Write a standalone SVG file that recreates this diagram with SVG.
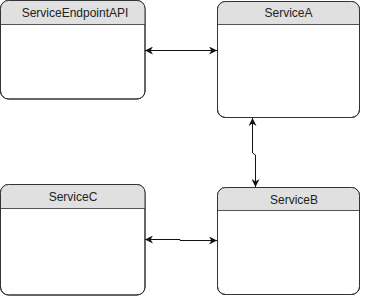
<svg xmlns="http://www.w3.org/2000/svg" width="370" height="296" viewBox="0 0 370 296">
<defs>
<style>
.box{fill:#ffffff;stroke:#333333;stroke-width:1}
.hdr{fill:#e0e0e0}
.sep{stroke:#555555;stroke-width:1}
.lbl{font-family:"Liberation Sans",Arial,sans-serif;font-size:12px;fill:#222222;text-anchor:middle}
.conn{fill:none;stroke:#111111;stroke-width:1}
</style>
<marker id="ah" viewBox="0 0 10 10" refX="10" refY="5" markerWidth="8" markerHeight="8" orient="auto-start-reverse" markerUnits="userSpaceOnUse">
<path d="M0,0 L10,5 L0,10 L3,5 Z" fill="#111111"/>
</marker>
<clipPath id="c1"><rect x="0.5" y="0.5" width="144.5" height="98.5" rx="8"/></clipPath>
<clipPath id="c2"><rect x="217.5" y="1.5" width="142" height="116" rx="8"/></clipPath>
<clipPath id="c3"><rect x="0.5" y="184.5" width="144.5" height="110.5" rx="8"/></clipPath>
<clipPath id="c4"><rect x="217.5" y="187.5" width="142" height="107" rx="8"/></clipPath>
</defs>
<g id="ServiceEndpointAPI">
<rect class="box" x="0.5" y="0.5" width="144.5" height="98.5" rx="8"/>
<rect class="hdr" x="0" y="0" width="146" height="24" clip-path="url(#c1)"/>
<line class="sep" x1="0.5" y1="24.5" x2="145" y2="24.5"/>
<rect x="0.5" y="0.5" width="144.5" height="98.5" rx="8" fill="none" stroke="#333333"/>
<text class="lbl" x="75" y="17">ServiceEndpointAPI</text>
</g>
<g id="ServiceA">
<rect class="box" x="217.5" y="1.5" width="142" height="116" rx="8"/>
<rect class="hdr" x="217" y="1" width="143" height="23" clip-path="url(#c2)"/>
<line class="sep" x1="217.5" y1="24.5" x2="359.5" y2="24.5"/>
<rect x="217.5" y="1.5" width="142" height="116" rx="8" fill="none" stroke="#333333"/>
<text class="lbl" x="288.5" y="17">ServiceA</text>
</g>
<g id="ServiceC">
<rect class="box" x="0.5" y="184.5" width="144.5" height="110.5" rx="8"/>
<rect class="hdr" x="0" y="184" width="146" height="24" clip-path="url(#c3)"/>
<line class="sep" x1="0.5" y1="208.5" x2="145" y2="208.5"/>
<rect x="0.5" y="184.5" width="144.5" height="110.5" rx="8" fill="none" stroke="#333333"/>
<text class="lbl" x="73" y="201">ServiceC</text>
</g>
<g id="ServiceB">
<rect class="box" x="217.5" y="187.5" width="142" height="107" rx="8"/>
<rect class="hdr" x="217" y="187" width="143" height="23" clip-path="url(#c4)"/>
<line class="sep" x1="217.5" y1="210.5" x2="359.5" y2="210.5"/>
<rect x="217.5" y="187.5" width="142" height="107" rx="8" fill="none" stroke="#333333"/>
<text class="lbl" x="294" y="204">ServiceB</text>
</g>
<g id="connectors">
<path class="conn" d="M145,50.5 L217,50.5" marker-start="url(#ah)" marker-end="url(#ah)"/>
<path class="conn" d="M145,239.5 L180,239.5 L180,240.5 L217,240.5" marker-start="url(#ah)" marker-end="url(#ah)"/>
<path class="conn" d="M252.5,118 L252.5,153 L255.5,155 L255.5,187" marker-start="url(#ah)" marker-end="url(#ah)"/>
</g>
</svg>
